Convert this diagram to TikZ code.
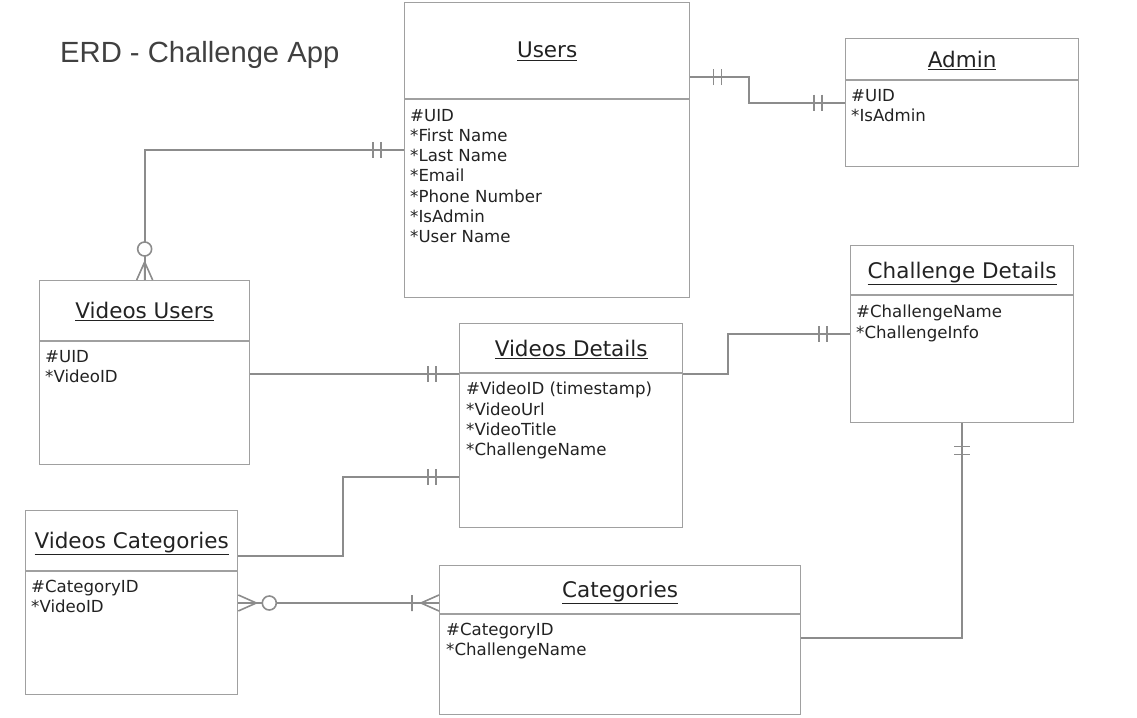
\documentclass[tikz,border=0pt]{standalone}
\usepackage{fontspec}
\setmainfont{DejaVu Sans}
\newfontfamily\headfont{Liberation Sans}

\definecolor{boxgray}{HTML}{A0A0A0}
\definecolor{linegray}{HTML}{8C8C8C}
\definecolor{txtgray}{HTML}{222222}

\tikzset{
  entity/.style={draw=boxgray, line width=1.3pt, anchor=north west, inner sep=0pt},
  divider/.style={draw=boxgray, line width=1.3pt},
  enttitle/.style={font=\fontsize{21.5}{24}\selectfont, text=txtgray, anchor=base, inner sep=0pt},
  attrs/.style={font=\fontsize{16.6}{20.2}\selectfont, text=txtgray, align=left, anchor=north west, inner sep=0pt, execute at begin node=\strut},
  conn/.style={draw=linegray, line width=1.8pt},
  one/.pic={\draw[conn, line width=1.6pt] (-23,-8) -- (-23,8) (-31,-8) -- (-31,8);},
  zeromany/.pic={\draw[conn, line width=1.6pt] (0,-8) -- (-18,0) -- (0,8) (0,0) -- (-18,0);
    \draw[conn, line width=1.6pt, fill=white] (-31,0) circle (7pt);},
  onemany/.pic={\draw[conn, line width=1.6pt] (0,-8) -- (-18,0) -- (0,8) (-27,-8) -- (-27,8);},
}

\begin{document}
\begin{tikzpicture}[x=1pt, y=-1pt]
    \useasboundingbox (0,0) rectangle (1137,717);

    % Title
    \node[anchor=base west, inner sep=0pt, text=black!75, font=\headfont\fontsize{29.2}{34}\selectfont] (title) at (60,63) {ERD - Challenge App};

    % Users
    \node[entity, minimum width=285pt, minimum height=295pt] (users) at (404,2) {};
    \draw[divider] ([yshift=-97pt]users.north west) -- ([yshift=-97pt]users.north east);
    \node[enttitle] (users-title) at ([yshift=-56pt]users.north) {\underline{Users}};
    \node[attrs] (users-attrs) at ([xshift=6pt,yshift=-107pt]users.north west) {\#UID\\*First Name\\*Last Name\\*Email\\*Phone Number\\*IsAdmin\\*User Name};

    % Admin
    \node[entity, minimum width=233pt, minimum height=128pt] (admin) at (845,38) {};
    \draw[divider] ([yshift=-42pt]admin.north west) -- ([yshift=-42pt]admin.north east);
    \node[enttitle] (admin-title) at ([yshift=-29pt]admin.north) {\underline{Admin}};
    \node[attrs] (admin-attrs) at ([xshift=6pt,yshift=-51pt]admin.north west) {\#UID\\*IsAdmin};

    % Challenge Details
    \node[entity, minimum width=223pt, minimum height=177pt] (chdetails) at (850,245) {};
    \draw[divider] ([yshift=-50pt]chdetails.north west) -- ([yshift=-50pt]chdetails.north east);
    \node[enttitle] (chdetails-title) at ([yshift=-33pt]chdetails.north) {\underline{Challenge Details}};
    \node[attrs] (chdetails-attrs) at ([xshift=6pt,yshift=-60pt]chdetails.north west) {\#ChallengeName\\*ChallengeInfo};

    % Videos Users
    \node[entity, minimum width=210pt, minimum height=184pt] (vusers) at (39,280) {};
    \draw[divider] ([yshift=-61pt]vusers.north west) -- ([yshift=-61pt]vusers.north east);
    \node[enttitle] (vusers-title) at ([yshift=-38pt]vusers.north) {\underline{Videos Users}};
    \node[attrs] (vusers-attrs) at ([xshift=6pt,yshift=-70pt]vusers.north west) {\#UID\\*VideoID};

    % Videos Details
    \node[entity, minimum width=223pt, minimum height=204pt] (vdetails) at (459,323) {};
    \draw[divider] ([yshift=-50pt]vdetails.north west) -- ([yshift=-50pt]vdetails.north east);
    \node[enttitle] (vdetails-title) at ([yshift=-33pt]vdetails.north) {\underline{Videos Details}};
    \node[attrs] (vdetails-attrs) at ([xshift=7pt,yshift=-59pt]vdetails.north west) {\#VideoID (timestamp)\\*VideoUrl\\*VideoTitle\\*ChallengeName};

    % Videos Categories
    \node[entity, minimum width=212pt, minimum height=184pt] (vcat) at (25,510) {};
    \draw[divider] ([yshift=-61pt]vcat.north west) -- ([yshift=-61pt]vcat.north east);
    \node[enttitle] (vcat-title) at ([yshift=-38pt]vcat.north) {\underline{Videos Categories}};
    \node[attrs] (vcat-attrs) at ([xshift=6pt,yshift=-70pt]vcat.north west) {\#CategoryID\\*VideoID};

    % Categories
    \node[entity, minimum width=361pt, minimum height=149pt] (categories) at (439,565) {};
    \draw[divider] ([yshift=-49pt]categories.north west) -- ([yshift=-49pt]categories.north east);
    \node[enttitle] (categories-title) at ([yshift=-32pt]categories.north) {\underline{Categories}};
    \node[attrs] (categories-attrs) at ([xshift=7pt,yshift=-58pt]categories.north west) {\#CategoryID\\*ChallengeName};

    % Connection points
    \coordinate (uA) at ([yshift=-75pt]users.north east);
    \coordinate (vdU) at ([yshift=-51pt]vdetails.north west);
    \coordinate (vdC) at ([yshift=-154pt]vdetails.north west);
    \coordinate (vdR) at ([yshift=-51pt]vdetails.north east);
    \coordinate (cdV) at ([yshift=-89pt]chdetails.north west);
    \coordinate (vcR) at ([yshift=-46pt]vcat.north east);
    \coordinate (catV) at ([yshift=-38pt]categories.north west);
    \coordinate (catR) at ([yshift=-73pt]categories.north east);

    % Relationships
    \draw[conn] (uA) -- ++(59,0) |- (admin.west);
    \draw[conn] (users.west) -| (vusers.north);
    \draw[conn] (vdU -| vusers.east) -- (vdU);
    \draw[conn] (vdR) -- ++(45,0) |- (cdV);
    \draw[conn] (vcR) -- ++(105,0) |- (vdC);
    \draw[conn] (catV -| vcat.east) -- (catV);
    \draw[conn] (catR) -| (chdetails.south);

    % Cardinality marks
    \pic[rotate=180] at (uA) {one};
    \pic at (admin.west) {one};
    \pic at (users.west) {one};
    \pic[rotate=-90] at (vusers.north) {zeromany};
    \pic at (vdU) {one};
    \pic at (vdC) {one};
    \pic at (cdV) {one};
    \pic[rotate=180] at (catV -| vcat.east) {zeromany};
    \pic at (catV) {onemany};
    \pic[rotate=90] at (chdetails.south) {one};

\end{tikzpicture}
\end{document}
